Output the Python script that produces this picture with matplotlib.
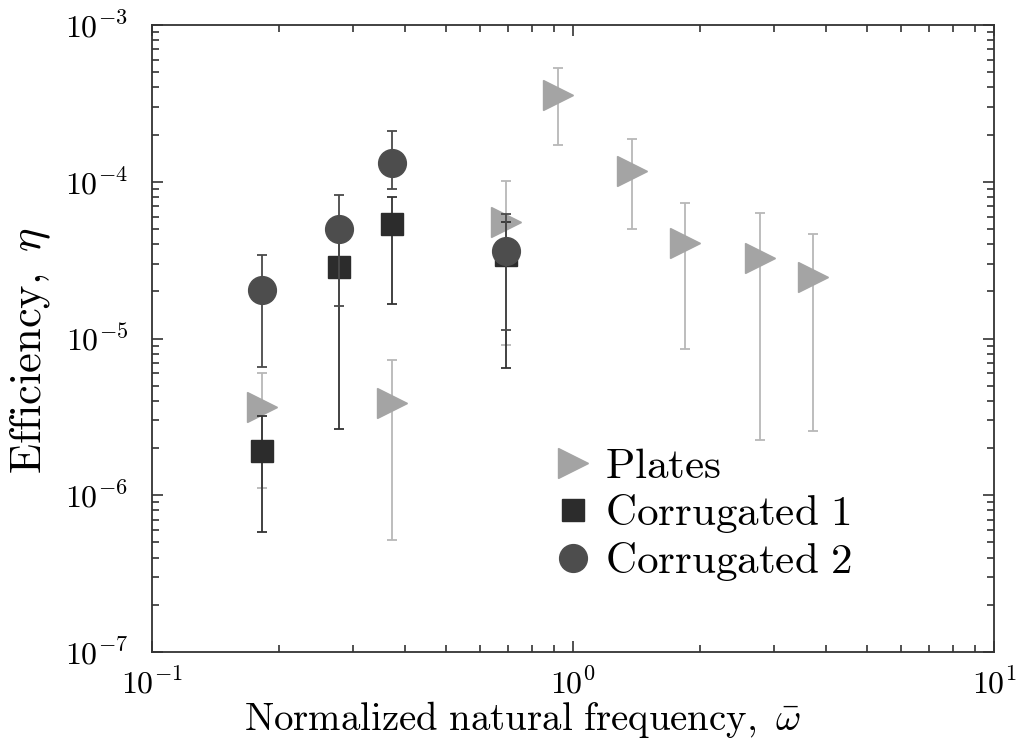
import matplotlib
matplotlib.use("Agg")
import matplotlib.pyplot as plt
import numpy as np
from matplotlib.ticker import LogLocator, NullFormatter, FuncFormatter

plt.rcParams['mathtext.fontset'] = 'cm'
plt.rcParams['font.family'] = 'serif'
plt.rcParams['font.serif'] = ['DejaVu Serif']

# Plates
plates_x = [0.1825, 0.371, 0.693, 0.921, 1.38, 1.85, 2.78, 3.72]
plates_y = [3.66e-6, 3.88e-6, 5.53e-5, 3.57e-4, 1.17e-4, 4.07e-5, 3.27e-5, 2.47e-5]
plates_lo = [1.11e-6, 5.2e-7, 9.1e-6, 1.71e-4, 5.0e-5, 8.6e-6, 2.25e-6, 2.57e-6]
plates_hi = [6.0e-6, 7.3e-6, 1.01e-4, 5.3e-4, 1.87e-4, 7.3e-5, 6.3e-5, 4.64e-5]

# Corrugated 1
corr1_x = [0.1825, 0.278, 0.371, 0.693]
corr1_y = [1.91e-6, 2.86e-5, 5.37e-5, 3.4e-5]
corr1_lo = [5.8e-7, 2.65e-6, 1.66e-5, 6.5e-6]
corr1_hi = [3.2e-6, 4.5e-5, 8.0e-5, 5.5e-5]

# Corrugated 2
corr2_x = [0.1825, 0.278, 0.371, 0.693]
corr2_y = [2.04e-5, 5.0e-5, 1.32e-4, 3.6e-5]
corr2_lo = [6.58e-6, 1.61e-5, 9.0e-5, 1.13e-5]
corr2_hi = [3.41e-5, 8.2e-5, 2.11e-4, 6.2e-5]

fig = plt.figure(figsize=(10.18, 7.54), dpi=100)
ax = fig.add_axes([152/1018, 1-652/754, (994-152)/1018, (652-25)/754])


def draw(x, y, lo, hi, marker, ms, fc, ec_bar, label):
    y = np.array(y)
    yerr = np.vstack([y - np.array(lo), np.array(hi) - y])
    ax.errorbar(x, y, yerr=yerr, fmt='none', ecolor=ec_bar, elinewidth=1.3,
                capsize=3.5, capthick=1.3)
    ax.plot(x, y, linestyle='none', marker=marker, markersize=ms,
            markerfacecolor=fc, markeredgecolor=fc, label=label)


draw(plates_x, plates_y, plates_lo, plates_hi, '>', 21, '#a4a4a4', '#b8b8b8',
     r'$\mathrm{Plates}$')
draw(corr1_x, corr1_y, corr1_lo, corr1_hi, 's', 16, '#2c2c2c', '#333333',
     r'$\mathrm{Corrugated\ 1}$')
draw(corr2_x, corr2_y, corr2_lo, corr2_hi, 'o', 20, '#4d4d4d', '#4a4a4a',
     r'$\mathrm{Corrugated\ 2}$')

ax.set_xscale('log')
ax.set_yscale('log')
ax.set_xlim(0.1, 10)
ax.set_ylim(1e-7, 1e-3)

pow_fmt = FuncFormatter(lambda v, p: r'$10^{%d}$' % int(round(np.log10(v))))
ax.xaxis.set_major_locator(LogLocator(base=10, numticks=10))
ax.xaxis.set_minor_locator(LogLocator(base=10, subs=np.arange(2, 10), numticks=20))
ax.yaxis.set_major_locator(LogLocator(base=10, numticks=10))
ax.yaxis.set_minor_locator(LogLocator(base=10, subs=np.arange(2, 10), numticks=20))
ax.xaxis.set_major_formatter(pow_fmt)
ax.yaxis.set_major_formatter(pow_fmt)
ax.xaxis.set_minor_formatter(NullFormatter())
ax.yaxis.set_minor_formatter(NullFormatter())

ax.tick_params(which='both', direction='in', top=True, right=True,
               color='#333333', width=1.2)
ax.tick_params(which='major', length=8, labelsize=23)
ax.tick_params(axis='x', which='major', pad=12)
ax.tick_params(axis='y', which='major', pad=17)
ax.tick_params(which='minor', length=5)
for s in ax.spines.values():
    s.set_linewidth(1.3)
    s.set_color('#333333')

ax.set_xlabel(r'$\mathrm{Normalized\ natural\ frequency,}\ \bar{\omega}$',
              fontsize=28)
ax.xaxis.set_label_coords(0.44, -0.075)
ax.set_ylabel(r'$\mathrm{Efficiency,}\ \eta$', fontsize=32)
ax.yaxis.set_label_coords(-0.117, 0.48)

ax.legend(loc='upper left', bbox_to_anchor=(0.477, 0.33), frameon=False,
          fontsize=31, handletextpad=0.3, labelspacing=0.12,
          handlelength=0.9, borderaxespad=0.0, borderpad=0.0)

fig.savefig('out.png', dpi=100)
